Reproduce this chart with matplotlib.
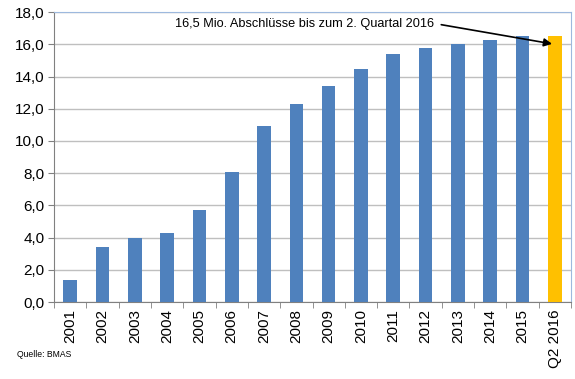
import matplotlib
matplotlib.use('Agg')
import matplotlib.pyplot as plt
import numpy as np

# data
labels = ['2001', '2002', '2003', '2004', '2005', '2006', '2007', '2008',
          '2009', '2010', '2011', '2012', '2013', '2014', '2015', 'Q2 2016']
values = [1.4, 3.4, 4.0, 4.3, 5.7, 8.1, 10.9, 12.3,
          13.4, 14.5, 15.4, 15.8, 16.0, 16.3, 16.5, 16.5]
yticks = [0, 2, 4, 6, 8, 10, 12, 14, 16, 18]
note = '16,5 Mio. Abschlüsse bis zum 2. Quartal 2016'

plt.rcParams['font.family'] = ['Liberation Sans', 'DejaVu Sans']

fig = plt.figure(figsize=(5.75, 3.79), dpi=100)
ax = fig.add_axes([0.094, 0.203, 0.899, 0.765])

x = np.arange(len(labels))
colors = ['#4F81BD'] * (len(labels) - 1) + ['#FFC000']
ax.bar(x, values, width=0.42, color=colors, zorder=3)

ax.set_ylim(0, 18)
ax.set_xlim(-0.5, len(labels) - 0.5)
ax.set_yticks(yticks)
ax.set_yticklabels([f'{v:.1f}'.replace('.', ',') for v in yticks], fontsize=11)
ax.yaxis.grid(True, color='#BFBFBF', linewidth=1, zorder=0)

# category labels centered, tick marks between categories
ax.set_xticks(x)
ax.set_xticklabels(labels, rotation=90, fontsize=11)
ax.tick_params(axis='x', length=0, pad=5)
ax.set_xticks(np.arange(-0.5, len(labels), 1), minor=True)
ax.tick_params(axis='x', which='minor', length=4, color='#808080')
ax.tick_params(axis='y', length=4, color='#808080', pad=3)

for s in ['left', 'bottom']:
    ax.spines[s].set_color('#808080')
for s in ['top', 'right']:
    ax.spines[s].set_color('#9DB9DE')

ax.annotate('', xy=(15.0, 16.0), xytext=(11.4, 17.25),
            arrowprops=dict(arrowstyle='-|>', color='black', lw=1.2,
                            mutation_scale=12))
ax.text(3.25, 17.25, note, fontsize=9.2, va='center', ha='left')

fig.text(0.03, 0.058, 'Quelle: BMAS', fontsize=6.2)

fig.savefig('out.png', dpi=100)
